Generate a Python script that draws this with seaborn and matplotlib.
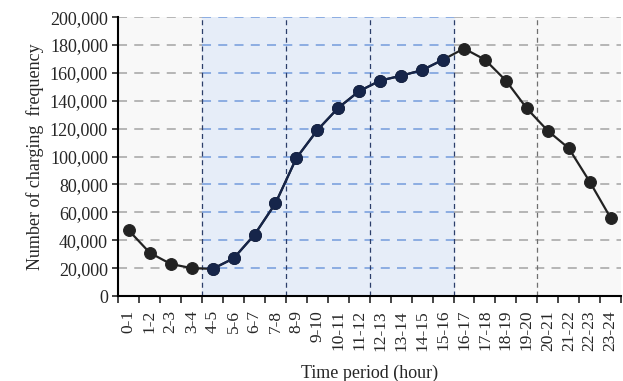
import numpy as np
import pandas as pd
import matplotlib.pyplot as plt
import seaborn as sns
from matplotlib.ticker import FuncFormatter

periods = ['0-1', '1-2', '2-3', '3-4', '4-5', '5-6', '6-7', '7-8', '8-9', '9-10',
           '10-11', '11-12', '12-13', '13-14', '14-15', '15-16', '16-17', '17-18',
           '18-19', '19-20', '20-21', '21-22', '22-23', '23-24']
frequency = [47000, 31000, 23000, 20000, 19500, 27000, 44000, 66500, 99000, 119000,
             135000, 147000, 154500, 158000, 162000, 169500, 177500, 169500,
             154500, 134500, 118500, 106000, 82000, 56000]
peak_start, peak_end = 4, 16          # shaded peak window (hour boundaries)
section_lines = [4, 8, 12, 16, 20]

sns.set_style('white')
plt.rcParams['font.family'] = ['Liberation Serif', 'DejaVu Serif']

df = pd.DataFrame({'idx': np.arange(len(periods)), 'freq': frequency})

fig = plt.figure(figsize=(6.23, 3.81), dpi=100)
ax = fig.add_axes([0.19, 0.223, 0.807, 0.732])
ax.set_facecolor('#f8f8f8')

ax.set_xlim(-0.5, len(periods) - 0.5)
ax.set_ylim(0, 200000)

# peak window shading
ax.axvspan(peak_start - 0.5, peak_end - 0.5, color='#e6edf8', zorder=0)

# horizontal grid: grey outside, blue inside the window
for yv in range(20000, 200001, 20000):
    ax.hlines(yv, -0.5, peak_start - 0.5, colors='#b0b0b0', linestyles=(0, (5, 4)), lw=1.3, zorder=1)
    ax.hlines(yv, peak_end - 0.5, len(periods) - 0.5, colors='#b0b0b0', linestyles=(0, (5, 4)), lw=1.3, zorder=1)
    ax.hlines(yv, peak_start - 0.5, peak_end - 0.5, colors='#85a8e0', linestyles=(0, (5, 4)), lw=1.3, zorder=1)

for xv in section_lines:
    c = '#2c3e6a' if peak_start <= xv <= peak_end else '#707070'
    ax.axvline(xv - 0.5, color=c, ls=(0, (4, 3)), lw=0.9, zorder=1)

sns.lineplot(data=df, x='idx', y='freq', ax=ax, color='#222222', marker='o',
             markersize=8.5, markeredgecolor='#222222', lw=1.6, zorder=3)
mid = df[(df.idx >= peak_start) & (df.idx < peak_end)]
sns.lineplot(data=mid, x='idx', y='freq', ax=ax, color='#16254a', marker='o',
             markersize=8.5, markeredgecolor='#16254a', lw=1.6, zorder=4)

ax.set_yticks(range(0, 200001, 20000))
ax.yaxis.set_major_formatter(FuncFormatter(lambda v, p: f'{int(v):,}'))
ax.set_xticks(np.arange(-0.5, len(periods), 1.0))
ax.set_xticklabels([])
ax.set_xticks(np.arange(len(periods)), minor=True)
ax.set_xticklabels(periods, minor=True, rotation=90)
ax.tick_params(axis='x', which='minor', length=0, labelsize=12.5, pad=10)
ax.tick_params(axis='x', which='major', length=5, width=1.2, direction='out', bottom=True)
ax.tick_params(axis='y', length=4, width=1.2, direction='out', left=True, labelsize=13)

for s in ['top', 'right']:
    ax.spines[s].set_visible(False)
for s in ['left', 'bottom']:
    ax.spines[s].set_color('black')
    ax.spines[s].set_linewidth(1.5)

ax.set_xlabel('Time period (hour)', fontsize=13, labelpad=10)
ax.set_ylabel('Number of charging  frequency', fontsize=13)
ax.legend_ = None

fig.savefig('out.png', dpi=100)
